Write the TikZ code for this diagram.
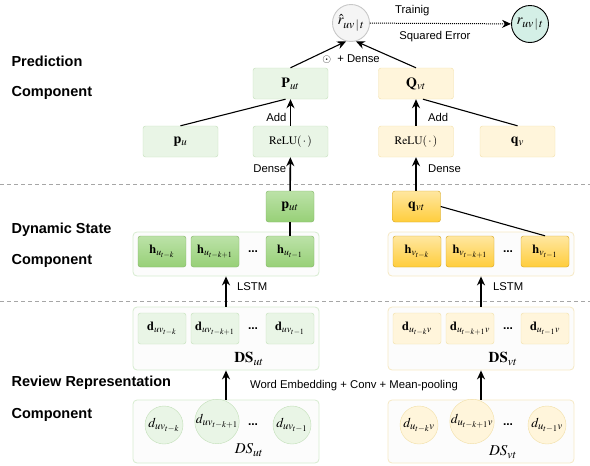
\documentclass[tikz,border=0pt]{standalone}
\usepackage{amsmath}
\usepackage{mathptmx}
\usepackage[no-math]{fontspec}
\setmainfont{Liberation Sans}
\usepackage{tikz}
\usetikzlibrary{arrows.meta}
\renewcommand{\defaultscriptratio}{.78}
\renewcommand{\defaultscriptscriptratio}{.64}

\definecolor{gfill}{HTML}{E9F5E6}
\definecolor{gline}{HTML}{C2DFB8}
\definecolor{yfill}{HTML}{FFF5DB}
\definecolor{yline}{HTML}{F2DFA6}
\definecolor{dgtop}{HTML}{BCE2A8}
\definecolor{dgbot}{HTML}{97D077}
\definecolor{dgline}{HTML}{82B366}
\definecolor{ortop}{HTML}{FFE7A0}
\definecolor{orbot}{HTML}{FFCD3C}
\definecolor{orline}{HTML}{D6A21E}
\definecolor{panel}{HTML}{FCFCFC}
\definecolor{gpline}{HTML}{D6ECCF}
\definecolor{ypline}{HTML}{F6E9C4}
\definecolor{rhfill}{HTML}{F5F5F5}
\definecolor{rhline}{HTML}{C8C8C8}
\definecolor{rfill}{HTML}{D4EFE6}

\begin{document}
\begin{tikzpicture}[x=1pt,y=-1pt,
	every node/.style={font=\fontsize{11.3}{13.5}\selectfont},
	sect/.style={anchor=west,font=\fontsize{14.5}{17}\selectfont\bfseries},
	gbox/.style={rectangle,rounded corners=2.5pt,draw=gline,fill=gfill,minimum width=75pt,minimum height=31pt,font=\fontsize{14}{16}\selectfont},
	ybox/.style={gbox,draw=yline,fill=yfill},
	gcell/.style={gbox,minimum width=48pt,font=\fontsize{12.5}{14}\selectfont},
	ycell/.style={gcell,draw=yline,fill=yfill},
	ghid/.style={gcell,draw=dgline,top color=dgtop,bottom color=dgbot},
	yhid/.style={gcell,draw=orline,top color=ortop,bottom color=orbot},
	gpanel/.style={rectangle,rounded corners=4pt,draw=gpline,fill=panel,minimum width=186pt,line width=0.8pt},
	ypanel/.style={gpanel,draw=ypline},
	gdoc/.style={circle,draw=gline,fill=gfill,minimum size=38pt,inner sep=0pt,font=\fontsize{13.5}{15}\selectfont},
	ydoc/.style={gdoc,draw=yline,fill=yfill},
	flow/.style={-{Stealth[length=9pt,width=8pt]},line width=1.6pt},
	merge/.style={-{Stealth[length=9pt,width=8pt]},line width=1.1pt},
	sep/.style={draw=gray!70,dash pattern=on 4pt off 3pt,line width=0.8pt}]
	\useasboundingbox (0,0) rectangle (590,466);

	\draw[sep] (0,184.5) -- (590,184.5);
	\draw[sep] (0,301) -- (590,301);

	\node (predlbl)[sect] at (8,61) {Prediction};
	\node (predcomp)[sect] at (8,93) {Component};
	\node (statelbl)[sect] at (8,230) {Dynamic State};
	\node (statecomp)[sect] at (8,261) {Component};
	\node (revlbl)[sect] at (8,383) {Review Representation};
	\node (revcomp)[sect] at (8,415) {Component};

%	panels first, cells on top
	\node (hpu)[gpanel,minimum height=44pt] at (226,254) {};
	\node (hpv)[ypanel,minimum height=44pt] at (481,254) {};
	\node (dsu)[gpanel,minimum height=63pt] at (226,338.5) {};
	\node (dsv)[ypanel,minimum height=63pt] at (481,338.5) {};
	\node (docu)[gpanel,minimum height=63pt] at (226,431.5) {};
	\node (docv)[ypanel,minimum height=63pt] at (481,431.5) {};

	\foreach \x/\id/\s/\cy in {162/1/{t-k}/425,215/2/{t-k+1}/421.5,290/3/{t-1}/425}{
		\node (hu\id)[ghid] at (\x,251.5) {$\mathbf{h}_{u_{\s}}$};
		\node (hv\id)[yhid] at (\x+255,251.5) {$\mathbf{h}_{v_{\s}}$};
		\node (du\id)[gcell] at (\x,328.5) {$\mathbf{d}_{uv_{\s}}$};
		\node (dv\id)[ycell] at (\x+255,328.5) {$\mathbf{d}_{u_{\s}v}$};
		\node (cu\id)[gdoc] at (\x+2,\cy) {$d_{uv_{\s}}$};
		\node (cv\id)[ydoc] at (\x+257,\cy) {$d_{u_{\s}v}$};
	}
	\foreach \y/\id in {251.5/h,328.5/d,425/c}{
		\node (dotsu\id)[font=\fontsize{12}{14}\selectfont\bfseries] at (253,\y) {...};
		\node (dotsv\id)[font=\fontsize{12}{14}\selectfont\bfseries] at (508,\y) {...};
	}

	\node (dsulbl)[font=\fontsize{15}{17}\selectfont] at (249,359) {$\mathbf{DS}_{ut}$};
	\node (dsvlbl)[font=\fontsize{15}{17}\selectfont] at (503,359) {$\mathbf{DS}_{vt}$};
	\node (doculbl)[font=\fontsize{15}{17}\selectfont] at (249,450) {$DS_{ut}$};
	\node (docvlbl)[font=\fontsize{15}{17}\selectfont] at (503,452) {$DS_{vt}$};

	\node (put)[ghid,font=\fontsize{14}{16}\selectfont] at (290,206.5) {$\mathbf{p}_{ut}$};
	\node (qvt)[yhid,font=\fontsize{14}{16}\selectfont] at (416.5,206.5) {$\mathbf{q}_{vt}$};

	\node (pu)[gbox] at (180.5,141.5) {$\mathbf{p}_{u}$};
	\node (reluu)[gbox,font=\fontsize{11.5}{13}\selectfont] at (290.5,141.5) {$\mathrm{ReLU}(\,\cdot\,)$};
	\node (reluv)[ybox,font=\fontsize{11.5}{13}\selectfont] at (416,141.5) {$\mathrm{ReLU}(\,\cdot\,)$};
	\node (qv)[ybox] at (517.5,141.5) {$\mathbf{q}_{v}$};
	\node (Put)[gbox] at (290.5,83.5) {$\mathbf{P}_{ut}$};
	\node (Qvt)[ybox] at (416,83.5) {$\mathbf{Q}_{vt}$};

	\node (rhat)[circle,draw=rhline,fill=rhfill,minimum size=37pt,inner sep=0pt,line width=0.9pt,font=\fontsize{15}{17}\selectfont] at (351,23) {$\hat{r}_{uv\,|\,t}$};
	\node (r)[circle,draw,fill=rfill,minimum size=37pt,inner sep=0pt,line width=0.9pt,font=\fontsize{15}{17}\selectfont] at (530,24) {$r_{uv\,|\,t}$};
	\node (fuse) at (351,59) {$\odot$\ \ + Dense};
	\node (embed) at (354,386) {Word Embedding + Conv + Mean-pooling};

	\draw[-{Stealth[length=9pt,width=8pt]},line width=1pt,dash pattern=on 1pt off 1pt] (rhat) -- (r)
		node[pos=0.3,above=4pt] {Trainig}
		node[pos=0.46,below=4pt] {Squared Error};
	\draw[merge] (Put.north) -- (rhat.-105);
	\draw[merge] (Qvt.north) -- (rhat.-75);
	\draw[flow] (reluu) -- (Put) node[pos=0.3,left] {Add};
	\draw[flow] (reluv) -- (Qvt) node[pos=0.3,right=8pt] {Add};
	\draw[line width=1.1pt] (pu.north) -- ([xshift=-5pt]Put.south);
	\draw[line width=1.1pt] (qv.north) -- ([xshift=7pt]Qvt.south);
	\draw[flow] (put) -- (reluu) node[pos=0.65,left] {Dense};
	\draw[flow] (qvt.north -| reluv) -- (reluv) node[pos=0.65,right=8pt] {Dense};
	\draw[line width=1.6pt] (put) -- (hu3);
	\draw[line width=1.1pt] (qvt.east) -- (hv3.north);
	\draw[flow] (dsu) -- (hpu) node[pos=0.65,right=7pt] {LSTM};
	\draw[flow] (dsv) -- (hpv) node[pos=0.65,right=8pt] {LSTM};
	\draw[flow] (docu) -- (dsu);
	\draw[flow] (docv) -- (dsv);
\end{tikzpicture}
\end{document}
